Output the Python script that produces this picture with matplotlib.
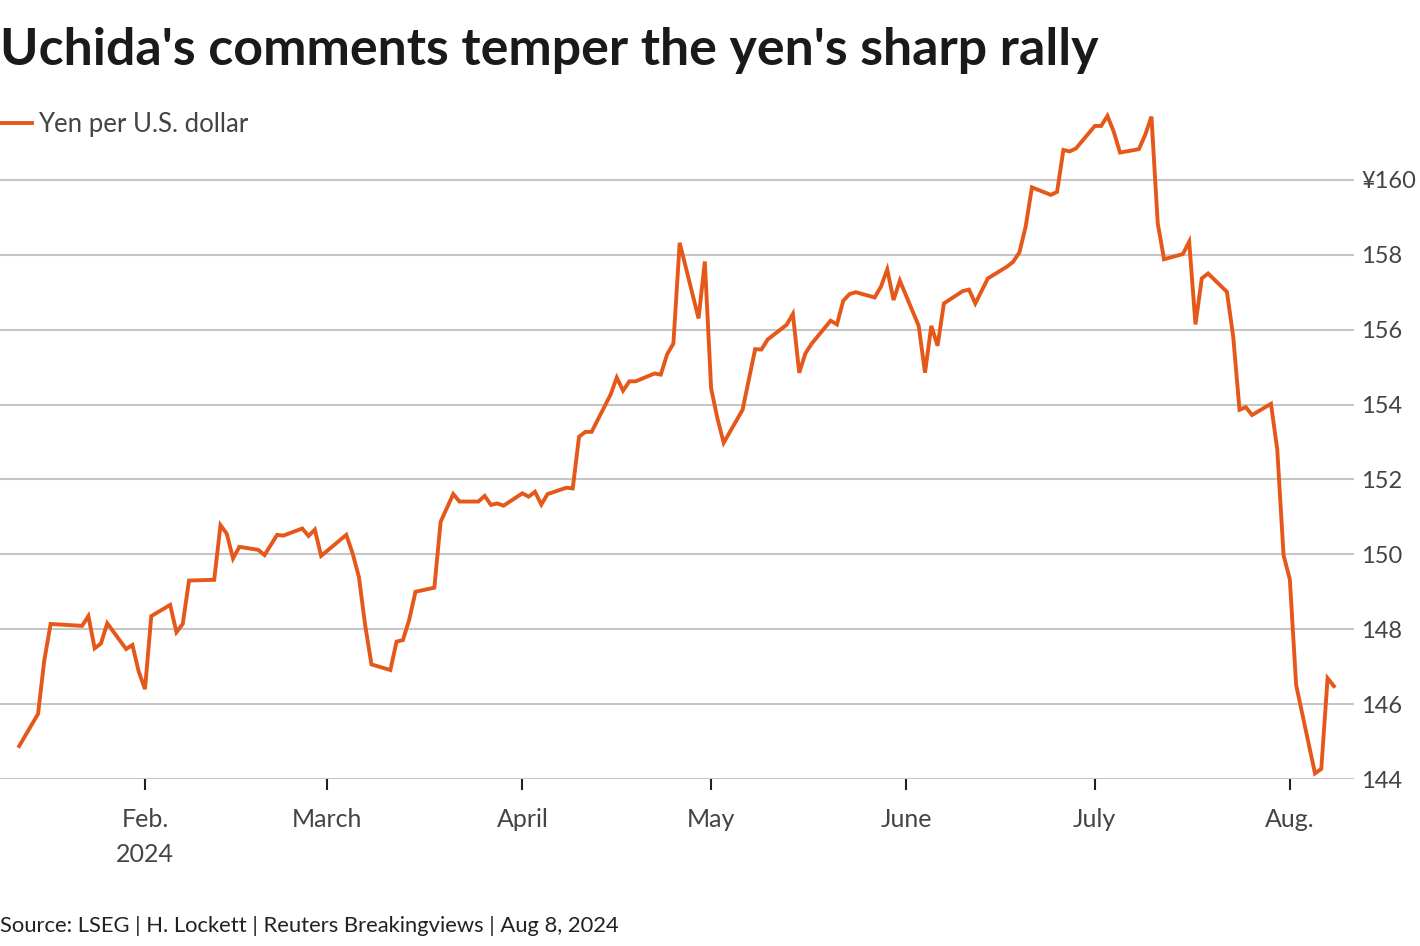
"""Yen per U.S. dollar, Jan-Aug 2024 (Reuters Breakingviews style)."""

import numpy as np
import matplotlib
matplotlib.use('Agg')
import matplotlib.pyplot as plt
import matplotlib.dates as mdates
from matplotlib.lines import Line2D

# --- data -------------------------------------------------------------------
dates = [
    "2024-01-12", "2024-01-15", "2024-01-16", "2024-01-17", "2024-01-22", "2024-01-23", "2024-01-24", "2024-01-25", "2024-01-26",
    "2024-01-29", "2024-01-30", "2024-01-31", "2024-02-01", "2024-02-02",
    "2024-02-05", "2024-02-06", "2024-02-07", "2024-02-08",
    "2024-02-12", "2024-02-13", "2024-02-14", "2024-02-15", "2024-02-16",
    "2024-02-19", "2024-02-20", "2024-02-21", "2024-02-22", "2024-02-23",
    "2024-02-26", "2024-02-27", "2024-02-28", "2024-02-29",
    "2024-03-04", "2024-03-05", "2024-03-06", "2024-03-07", "2024-03-08",
    "2024-03-11", "2024-03-12", "2024-03-13", "2024-03-14", "2024-03-15",
    "2024-03-18", "2024-03-19", "2024-03-21", "2024-03-22",
    "2024-03-25", "2024-03-26", "2024-03-27", "2024-03-28", "2024-03-29",
    "2024-04-01", "2024-04-02", "2024-04-03", "2024-04-04", "2024-04-05",
    "2024-04-08", "2024-04-09", "2024-04-10", "2024-04-11", "2024-04-12",
    "2024-04-15", "2024-04-16", "2024-04-17", "2024-04-18", "2024-04-19",
    "2024-04-22", "2024-04-23", "2024-04-24", "2024-04-25", "2024-04-26",
    "2024-04-29", "2024-04-30", "2024-05-01", "2024-05-02", "2024-05-03",
    "2024-05-06", "2024-05-08", "2024-05-09", "2024-05-10",
    "2024-05-13", "2024-05-14", "2024-05-15", "2024-05-16", "2024-05-17",
    "2024-05-20", "2024-05-21", "2024-05-22", "2024-05-23", "2024-05-24",
    "2024-05-27", "2024-05-28", "2024-05-29", "2024-05-30", "2024-05-31",
    "2024-06-03", "2024-06-04", "2024-06-05", "2024-06-06", "2024-06-07",
    "2024-06-10", "2024-06-11", "2024-06-12", "2024-06-14",
    "2024-06-17", "2024-06-18", "2024-06-19", "2024-06-20", "2024-06-21",
    "2024-06-24", "2024-06-25", "2024-06-26", "2024-06-27", "2024-06-28",
    "2024-07-01", "2024-07-02", "2024-07-03", "2024-07-04", "2024-07-05",
    "2024-07-08", "2024-07-09", "2024-07-10", "2024-07-11", "2024-07-12",
    "2024-07-15", "2024-07-16", "2024-07-17", "2024-07-18", "2024-07-19",
    "2024-07-22", "2024-07-23", "2024-07-24", "2024-07-25", "2024-07-26",
    "2024-07-29", "2024-07-30", "2024-07-31", "2024-08-01", "2024-08-02",
    "2024-08-05", "2024-08-06", "2024-08-07", "2024-08-08",
]

yen_per_usd = [
    144.88, 145.74, 147.18, 148.14, 148.09, 148.35, 147.49, 147.62, 148.16,
    147.47, 147.58, 146.87, 146.40, 148.35,
    148.65, 147.92, 148.14, 149.30,
    149.32, 150.78, 150.55, 149.89, 150.20,
    150.12, 149.98, 150.25, 150.52, 150.50,
    150.69, 150.49, 150.66, 149.96,
    150.52, 150.03, 149.40, 148.11, 147.06,
    146.91, 147.67, 147.71, 148.25, 149.00,
    149.11, 150.87, 151.61, 151.41,
    151.41, 151.56, 151.32, 151.36, 151.30,
    151.63, 151.54, 151.67, 151.33, 151.61,
    151.78, 151.76, 153.14, 153.27, 153.27,
    154.26, 154.72, 154.37, 154.62, 154.62,
    154.83, 154.80, 155.34, 155.63, 158.32,
    156.30, 157.82, 154.43, 153.63, 152.98,
    153.86, 155.48, 155.47, 155.74,
    156.13, 156.42, 154.85, 155.37, 155.63,
    156.24, 156.14, 156.77, 156.95, 157.00,
    156.86, 157.15, 157.61, 156.79, 157.31,
    156.10, 154.85, 156.10, 155.57, 156.70,
    157.03, 157.07, 156.70, 157.37,
    157.68, 157.81, 158.06, 158.75, 159.80,
    159.60, 159.68, 160.80, 160.76, 160.84,
    161.44, 161.44, 161.71, 161.29, 160.73,
    160.82, 161.20, 161.69, 158.84, 157.88,
    158.02, 158.35, 156.14, 157.37, 157.50,
    157.01, 155.81, 153.86, 153.93, 153.72,
    154.02, 152.80, 149.98, 149.33, 146.51,
    144.15, 144.27, 146.69, 146.48,
]

month_ticks = ["2024-02-01", "2024-03-01", "2024-04-01", "2024-05-01", "2024-06-01", "2024-07-01", "2024-08-01"]
month_labels = ["Feb.\n2024", "March", "April", "May", "June", "July", "Aug."]
y_ticks = [144, 146, 148, 150, 152, 154, 156, 158, 160]
y_labels = ["144", "146", "148", "150", "152", "154", "156", "158", "\u00a5160"]

title = "Uchida's comments temper the yen's sharp rally"
series_name = "Yen per U.S. dollar"
source = "Source: LSEG | H. Lockett | Reuters Breakingviews | Aug 8, 2024"

# --- style ------------------------------------------------------------------
ORANGE = '#e5581a'
GRID = '#c6c6c6'
TEXT = '#444444'
W, H = 1420, 946

plt.rcParams['font.family'] = ['Lato', 'DejaVu Sans']

x = mdates.date2num(np.array(dates, dtype='datetime64[D]'))
xt = mdates.date2num(np.array(month_ticks, dtype='datetime64[D]'))
feb1 = xt[0]

fig = plt.figure(figsize=(W / 100, H / 100), dpi=100)
ax = fig.add_axes([0, 1 - 779 / H, 1354 / W, (779 - 105) / H])

ax.plot(x, yen_per_usd, color=ORANGE, lw=2.8, solid_joinstyle='miter', zorder=3)

ax.set_xlim(feb1 - 23.05, feb1 + 192.2)
ax.set_ylim(144, 162)

ax.set_yticks(y_ticks)
ax.set_yticklabels(y_labels)
ax.yaxis.tick_right()
ax.tick_params(axis='y', length=0, pad=5, labelsize=17, labelcolor=TEXT)
ax.grid(axis='y', color=GRID, lw=1.5)
ax.set_axisbelow(True)

ax.set_xticks(xt)
ax.set_xticklabels(month_labels, linespacing=1.6)
ax.tick_params(axis='x', length=8, width=1.5, color='#222222', pad=13, labelsize=18, labelcolor=TEXT)

for s in ax.spines.values():
    s.set_visible(False)

fig.text(0, 1 - 65 / H, title, fontsize=37.4, fontweight='bold', color='#1a1a1a', va='baseline', ha='left')
fig.add_artist(Line2D([0, 32 / W], [1 - 123 / H] * 2, color=ORANGE, lw=2.8, transform=fig.transFigure))
fig.text(38 / W, 1 - 132 / H, series_name, fontsize=18.5, color=TEXT, va='baseline', ha='left')
fig.text(0, 1 - 932 / H, source, fontsize=15.8, color='#222222', va='baseline', ha='left')

fig.savefig('out.png', dpi=100)
